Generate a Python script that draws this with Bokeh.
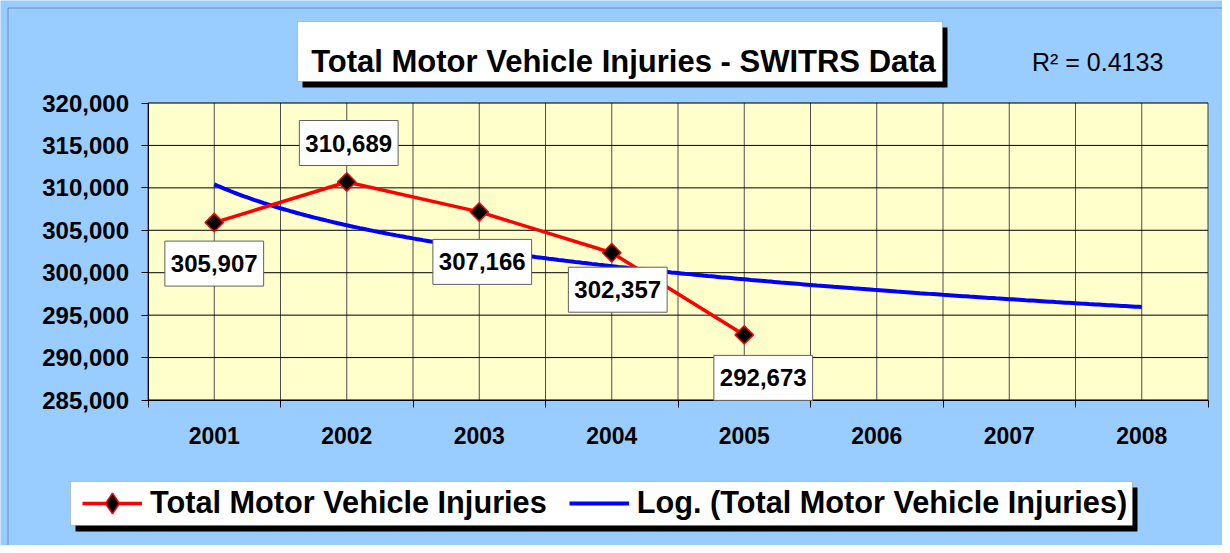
import numpy as np
from bokeh.plotting import figure
from bokeh.models import (Range1d, FixedTicker, NumeralTickFormatter, Label,
                          BoxAnnotation, Legend, LegendItem, LinearAxis)
from bokeh.embed import file_html
from bokeh.resources import INLINE

# ---------------- data ----------------
years = [2001, 2002, 2003, 2004, 2005, 2006, 2007, 2008]
injury_years = [2001, 2002, 2003, 2004, 2005]
injuries = [305907, 310689, 307166, 302357, 292673]
y_ticks = [285000, 290000, 295000, 300000, 305000, 310000, 315000, 320000]
title_text = "Total Motor Vehicle Injuries - SWITRS Data"
series_name = "Total Motor Vehicle Injuries"
trend_name = "Log. (Total Motor Vehicle Injuries)"
r2_text = "R\u00b2 = 0.4133"

# logarithmic trendline (Excel style: x = category index 1..n)
idx = np.arange(1, len(injuries) + 1)
a, b = np.polyfit(np.log(idx), injuries, 1)
t = np.linspace(1, len(years), 281)
trend_x = years[0] - 1 + t
trend_y = a * np.log(t) + b

# ---------------- layout / style ----------------
FONT = "Liberation Sans"
W, H = 1222, 545
PL, PR, PT, PB = 147.5, 1207.5, 102.5, 399.5     # plot-area edges in canvas px
xa0, xa1 = years[0] - 0.5, years[-1] + 0.5
ya0, ya1 = y_ticks[0], y_ticks[-1]
sx = (PR - PL) / (xa1 - xa0)
sy = (PB - PT) / (ya1 - ya0)


def X(px):
    return xa0 + (px - PL) / sx


def Y(py):
    return ya1 + (PT - py) / sy


label_offsets = [(0, -41), (2, 39), (3, -50), (6, -37), (19, -43)]

p = figure(width=W, height=H, output_backend="svg", toolbar_location=None,
           title=None, x_axis_location=None, y_axis_location=None,
           x_range=Range1d(X(0), X(W)), y_range=Range1d(Y(H), Y(0)),
           min_border=0, min_border_left=0, min_border_right=0,
           min_border_top=0, min_border_bottom=0,
           background_fill_color="#99CCFF", border_fill_color="#99CCFF",
           outline_line_color=None)
for g in p.grid:
    g.visible = False

# outer chart border (left / top edges visible)
p.add_layout(BoxAnnotation(left=X(7.5), right=X(W + 20), top=Y(7.5), bottom=Y(H + 20),
                           fill_alpha=0, line_color="black", line_width=1))

# plot area
p.add_layout(BoxAnnotation(left=xa0, right=xa1, bottom=ya0, top=ya1,
                           fill_color="#FFFFCC", fill_alpha=1,
                           line_color="#808080", line_width=1, level="underlay"))

# grid lines
vgrid = [xa0 + 0.5 * i for i in range(2 * len(years) + 1)]
p.segment(x0=vgrid, x1=vgrid, y0=ya0, y1=ya1, line_color="#4d4d4d", line_width=1)
p.segment(x0=xa0, x1=xa1, y0=y_ticks, y1=y_ticks, line_color="#000000", line_width=1)

# axes (fixed inside the canvas-wide frame)
yax = LinearAxis(fixed_location=xa0, bounds=(ya0, ya1),
                 ticker=FixedTicker(ticks=y_ticks),
                 formatter=NumeralTickFormatter(format="0,0"),
                 major_tick_out=7, major_tick_in=0, minor_tick_out=0, minor_tick_in=0,
                 major_label_standoff=12)
xax = LinearAxis(fixed_location=ya0, bounds=(xa0, xa1),
                 ticker=FixedTicker(ticks=years,
                                    minor_ticks=[y - 0.5 for y in years] + [xa1]),
                 major_tick_out=0, major_tick_in=0, minor_tick_out=7, minor_tick_in=0,
                 major_label_standoff=20)
for ax in (xax, yax):
    ax.axis_line_color = "black"
    ax.axis_line_width = 1
    ax.major_tick_line_color = "black"
    ax.minor_tick_line_color = "black"
    ax.major_label_text_font = FONT
    ax.major_label_text_font_style = "bold"
    ax.major_label_text_color = "black"
yax.major_label_text_font_size = "24px"
xax.major_label_text_font_size = "23px"
p.add_layout(yax, "left")
p.add_layout(xax, "below")

# series
trend_r = p.line(trend_x, trend_y, line_color="#0000FF", line_width=4)
line_r = p.line(injury_years, injuries, line_color="#FF0000", line_width=3.5)
pts_r = p.scatter(injury_years, injuries, marker="square", angle=np.pi / 4, size=13,
                  fill_color="black", line_color="#FF0000", line_width=1.5)
# legend-only marker proxy (not shown in the plot)
legend_marker = p.scatter(injury_years[:1], injuries[:1], marker="diamond",
                          fill_color="black", line_color="#FF0000", line_width=1.5,
                          visible=False)


def framed_box(l, r, t_, btm, dx, dy, border="#606060"):
    p.add_layout(BoxAnnotation(left=X(l + dx), right=X(r + dx), top=Y(t_ + dy), bottom=Y(btm + dy),
                               fill_color="black", fill_alpha=1, line_alpha=0))
    p.add_layout(BoxAnnotation(left=X(l), right=X(r), top=Y(t_), bottom=Y(btm),
                               fill_color="white", fill_alpha=1,
                               line_color=border, line_width=1))


# title box
framed_box(297, 942, 21, 81, 5, 6)
p.add_layout(Label(x=X(623), y=Y(60.7), text=title_text, text_font=FONT,
                   text_font_style="bold", text_font_size="31px", text_color="black",
                   text_align="center", text_baseline="alphabetic"))

# R^2 text
p.add_layout(Label(x=X(1031.5), y=Y(61), text=r2_text, text_font=FONT,
                   text_font_size="25px", text_color="black",
                   text_align="left", text_baseline="alphabetic"))

# data labels
for (yr, v), (dx, dy) in zip(zip(injury_years, injuries), label_offsets):
    p.add_layout(Label(x=yr, y=v, x_offset=dx, y_offset=dy,
                       text=f"{v:,}", text_font=FONT, text_font_style="bold",
                       text_font_size="24px", text_color="black",
                       text_align="center", text_baseline="middle",
                       background_fill_color="white", background_fill_alpha=1,
                       border_line_color="#606060", border_line_width=1,
                       padding=(6, 14)))

# legend box + legend
framed_box(70, 1132, 481, 525, 5, 6)
GH = 52
legend = Legend(items=[LegendItem(label=series_name, renderers=[line_r, legend_marker]),
                       LegendItem(label=trend_name, renderers=[trend_r])],
                orientation="horizontal", location=(82, H - (503 + GH / 2)),
                label_text_font=FONT, label_text_font_style="bold",
                label_text_font_size="30.7px", label_text_color="black",
                glyph_width=60, glyph_height=GH, label_height=GH,
                label_standoff=8, spacing=22, padding=0, margin=0,
                border_line_alpha=0, background_fill_alpha=0)
p.add_layout(legend)

open("out.html", "w").write(file_html(p, INLINE))
